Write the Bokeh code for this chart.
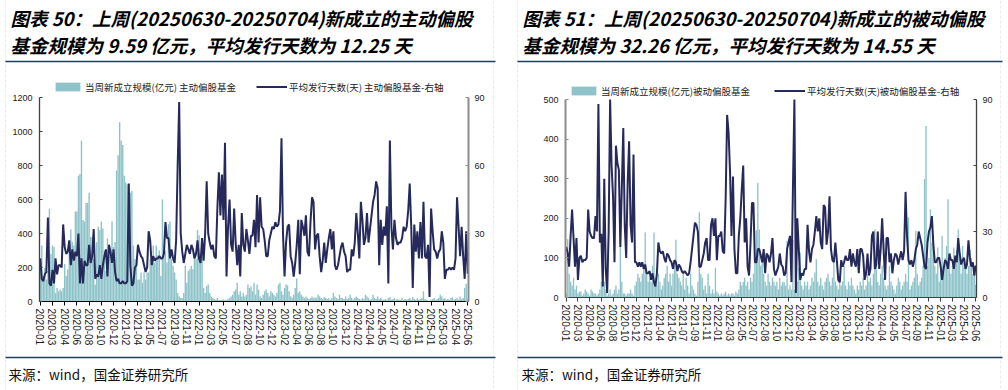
from bokeh.plotting import figure
from bokeh.models import (Range1d, LinearAxis, FixedTicker, SingleIntervalTicker, Label,
                          Legend, LegendItem, BoxAnnotation)
from bokeh.layouts import row
from bokeh.embed import file_html
from bokeh.resources import INLINE

# ---------------- data ----------------
tick_labels = ["2020-01", "2020-03", "2020-04", "2020-06", "2020-08", "2020-10", "2020-12",
               "2021-02", "2021-04", "2021-05", "2021-07", "2021-09", "2021-11",
               "2022-01", "2022-03", "2022-05", "2022-07", "2022-08", "2022-10", "2022-12",
               "2023-02", "2023-04", "2023-06", "2023-08", "2023-10", "2023-12",
               "2024-02", "2024-04", "2024-05", "2024-07", "2024-09", "2024-11",
               "2025-01", "2025-03", "2025-04", "2025-06"]
weeks_per_label = 8

# 主动偏股基金: 当周新成立规模(亿元)
active_size = [
    230, 330, 150, 200, 130, 180, 545, 280, 330, 320,
    50, 80, 60, 70, 60, 80, 220, 150, 190, 350,
    425, 350, 330, 530, 530, 740, 750, 945, 480, 470,
    580, 580, 640, 380, 380, 250, 100, 350, 440, 420,
    470, 430, 300, 180, 370, 330, 300, 470, 320, 350,
    770, 860, 1055, 945, 920, 740, 700, 690, 500, 640,
    650, 330, 250, 210, 130, 130, 170, 110, 170, 130,
    170, 170, 250, 210, 330, 230, 330, 270, 300, 150,
    600, 270, 300, 230, 455, 470, 250, 210, 170, 130,
    50, 30, 20, 20, 50, 210, 110, 180, 190, 210,
    190, 290, 250, 420, 390, 240, 300, 80, 50, 90,
    100, 50, 30, 20, 15, 10, 20, 10, 8, 10,
    12, 10, 8, 15, 20, 30, 40, 60, 70, 110,
    40, 60, 30, 50, 30, 40, 100, 80, 90, 60,
    110, 40, 100, 70, 30, 20, 40, 60, 70, 50,
    30, 60, 50, 40, 30, 50, 100, 110, 60, 40,
    80, 100, 95, 60, 30, 20, 40, 80, 135, 50,
    60, 40, 30, 20, 30, 20, 15, 20, 30, 20,
    25, 20, 40, 30, 20, 15, 25, 20, 15, 20,
    10, 20, 50, 30, 20, 15, 40, 20, 20, 15,
    30, 15, 20, 40, 20, 10, 20, 30, 20, 15,
    10, 20, 15, 40, 30, 20, 10, 15, 40, 20,
    15, 30, 15, 20, 10, 10, 15, 10, 20, 25,
    10, 15, 20, 10, 15, 10, 10, 20, 10, 15,
    10, 15, 20, 10, 25, 15, 10, 20, 10, 15,
    20, 60, 15, 10, 5, 5, 10, 15, 20, 10,
    15, 20, 40, 30, 15, 20, 10, 15, 10, 20,
    25, 10, 15, 20, 10, 30, 15, 20, 80, 105,
    9.59]

# 主动偏股基金: 平均发行天数(天)
active_days = [
    19, 10, 9, 12, 13, 37, 8, 7, 14, 8,
    19, 12, 16, 16, 15, 34, 24, 21, 22, 27,
    16, 23, 18, 22, 20, 30, 8, 19, 8, 18,
    16, 16, 25, 17, 20, 32, 10, 12, 11, 16,
    10, 16, 20, 23, 11, 25, 22, 17, 23, 13,
    9, 10, 8, 8, 9, 8, 8, 9, 52, 16,
    7, 8, 15, 16, 25, 22, 20, 19, 16, 13,
    15, 31, 27, 16, 20, 18, 19, 19, 20, 19,
    19, 21, 35, 28, 28, 19, 23, 19, 17, 27,
    60, 88, 30, 22, 17, 21, 25, 23, 21, 25,
    23, 19, 21, 27, 19, 17, 28, 18, 30, 53,
    30, 26, 23, 25, 20, 19, 41, 57, 38, 56,
    36, 70, 11, 33, 45, 25, 22, 41, 26, 16,
    25, 11, 39, 25, 22, 32, 27, 21, 29, 29,
    36, 24, 47, 26, 46, 33, 32, 27, 20, 20,
    27, 30, 33, 32, 35, 33, 34, 40, 72, 30,
    11, 26, 33, 34, 20, 17, 11, 17, 25, 36,
    12, 36, 33, 29, 38, 22, 20, 35, 46, 44,
    23, 29, 30, 20, 13, 18, 26, 17, 23, 28,
    32, 23, 31, 16, 14, 16, 20, 24, 26, 22,
    20, 13, 14, 14, 23, 20, 26, 39, 30, 19,
    44, 36, 25, 28, 39, 26, 32, 38, 44, 47,
    53, 50, 16, 36, 25, 33, 29, 42, 8, 71,
    33, 23, 36, 28, 25, 26, 26, 28, 33, 31,
    33, 40, 52, 33, 6, 34, 22, 31, 19, 35,
    19, 44, 20, 19, 25, 2, 41, 31, 23, 22,
    19, 22, 23, 31, 26, 10, 14, 14, 15, 14,
    15, 14, 19, 46, 33, 20, 33, 20, 10, 31,
    12.25]

# 被动偏股基金: 当周新成立规模(亿元)
passive_size = [
    10, 147, 60, 40, 30, 50, 20, 30, 10, 15,
    15, 5, 10, 20, 15, 10, 5, 20, 15, 10,
    10, 5, 10, 20, 40, 30, 40, 20, 5, 10,
    20, 5, 10, 20, 30, 10, 20, 130, 40, 10,
    10, 5, 10, 10, 20, 10, 5, 30, 40, 60,
    50, 40, 60, 80, 164, 60, 40, 50, 40, 80,
    164, 50, 30, 60, 40, 20, 30, 50, 60, 80,
    40, 60, 30, 60, 80, 146, 60, 50, 40, 30,
    60, 20, 50, 30, 10, 60, 30, 20, 10, 5,
    40, 215, 60, 50, 20, 30, 10, 60, 30, 10,
    20, 10, 75, 15, 10, 5, 10, 5, 10, 15,
    5, 10, 5, 10, 10, 5, 15, 10, 20, 40,
    30, 40, 50, 30, 40, 20, 50, 40, 60, 100,
    170, 290, 172, 80, 110, 60, 40, 30, 60, 40,
    30, 50, 40, 30, 40, 20, 50, 30, 40, 38,
    30, 143, 20, 30, 20, 145, 20, 30, 40, 75,
    113, 30, 20, 40, 30, 40, 20, 30, 50, 40,
    63, 97, 40, 30, 50, 30, 20, 40, 50, 60,
    40, 30, 50, 97, 40, 30, 20, 50, 30, 40,
    80, 30, 20, 40, 30, 50, 30, 20, 10, 30,
    20, 40, 30, 50, 20, 30, 60, 40, 50, 30,
    60, 172, 100, 40, 30, 60, 80, 50, 30, 20,
    30, 80, 40, 30, 20, 10, 30, 50, 40, 20,
    30, 40, 60, 40, 202, 20, 30, 40, 50, 168,
    60, 30, 40, 50, 80, 299, 433, 80, 100, 223,
    139, 160, 80, 60, 126, 40, 80, 155, 60, 100,
    130, 248, 100, 60, 80, 126, 100, 120, 172, 100,
    60, 130, 100, 80, 60, 80, 120, 100, 60, 80,
    32.26]

# 被动偏股基金: 平均发行天数(天)
passive_days = [
    23, 20, 14, 28, 40, 27, 14, 27, 8, 18,
    19, 16, 17, 17, 18, 40, 30, 28, 27, 27,
    37, 30, 88, 25, 29, 5, 54, 13, 2, 30,
    90, 60, 46, 16, 69, 61, 58, 23, 50, 77,
    33, 18, 52, 71, 33, 25, 65, 16, 16, 14,
    16, 14, 16, 13, 15, 11, 11, 12, 8, 11,
    7, 5, 11, 25, 21, 20, 21, 18, 16, 20,
    19, 17, 16, 13, 17, 16, 12, 15, 14, 12,
    11, 12, 11, 10, 11, 16, 22, 28, 34, 33,
    30, 14, 14, 17, 20, 25, 27, 17, 17, 33,
    36, 28, 36, 17, 28, 28, 30, 21, 20, 45,
    83, 75, 57, 28, 55, 22, 11, 11, 28, 36,
    49, 60, 25, 36, 14, 10, 25, 43, 43, 16,
    16, 22, 22, 19, 16, 22, 11, 20, 19, 16,
    20, 27, 13, 10, 12, 14, 20, 15, 14, 10,
    11, 22, 25, 28, 7, 50, 90, 2, 36, 22,
    8, 11, 10, 13, 13, 33, 21, 16, 22, 24,
    30, 37, 30, 36, 25, 22, 42, 41, 24, 30,
    46, 22, 17, 16, 25, 17, 8, 7, 17, 14,
    16, 19, 17, 17, 22, 14, 20, 16, 14, 22,
    11, 22, 22, 19, 8, 11, 20, 10, 13, 28,
    30, 13, 15, 30, 13, 22, 36, 22, 8, 27,
    27, 16, 20, 11, 17, 20, 19, 15, 18, 21,
    17, 21, 48, 28, 17, 15, 17, 14, 17, 22,
    24, 30, 27, 24, 19, 14, 13, 25, 30, 32,
    37, 24, 16, 16, 18, 18, 14, 8, 13, 17,
    16, 13, 20, 17, 17, 13, 19, 16, 27, 20,
    15, 17, 18, 13, 15, 26, 18, 14, 16, 10,
    14.55]

titles_left = ["图表 50：上周(20250630-20250704)新成立的主动偏股",
               "基金规模为 9.59 亿元，平均发行天数为 12.25 天"]
titles_right = ["图表 51：上周(20250630-20250704)新成立的被动偏股",
                "基金规模为 32.26 亿元，平均发行天数为 14.55 天"]
legend_left = ["当周新成立规模(亿元) 主动偏股基金", "平均发行天数(天) 主动偏股基金-右轴"]
legend_right = ["当周新成立规模(亿元)被动偏股基金", "平均发行天数(天)被动偏股基金-右轴"]
source_text = "来源：wind，国金证券研究所"

# ---------------- style ----------------
BAR = "#8EC3C9"
LINE = "#262A5B"
SEP = "#1F3D5C"
CJK = "Noto Sans CJK SC"
NUM = "Liberation Sans"
PW, PH = 504, 390
DAYS_MAX = 90


def style_axis(ax, color, width, font_size="9px"):
    ax.axis_line_color = color
    ax.axis_line_width = width
    ax.major_tick_line_color = color
    ax.minor_tick_line_color = None
    ax.major_label_text_font = NUM
    ax.major_label_text_font_size = font_size
    ax.major_label_text_color = "#1a1a1a"


def scr(kw):
    return dict(kw, left_units="screen", right_units="screen",
                top_units="screen", bottom_units="screen")


def panel(size, days, size_max, size_step, titles, legends,
          area, title_x, src_x, box, leg_xy, leg_spacing, cols):
    """area = (left, right, top, bottom) pixel edges of the plotting area inside the panel."""
    n = len(size)
    idx = list(range(n))
    al, ar, at, ab = area
    kx = (ar - al) / n                       # px per week slot
    x_lo = -0.5 - al / kx
    x_hi = n - 0.5 + (PW - ar) / kx
    ky = size_max / (ab - at)                # value per px
    kd = DAYS_MAX / (ab - at)

    p = figure(width=PW, height=PH, output_backend="svg", toolbar_location=None,
               x_range=Range1d(x_lo, x_hi),
               y_range=Range1d(-(PH - ab) * ky, size_max + at * ky),
               min_border_left=0, min_border_right=0, min_border_top=0, min_border_bottom=0)
    p.outline_line_color = None
    p.grid.visible = False
    p.background_fill_color = "white"
    p.border_fill_color = "white"
    p.extra_y_ranges = {"days": Range1d(-(PH - ab) * kd, DAYS_MAX + at * kd)}

    bars = p.vbar(x=idx, top=size, width=0.92, fill_color=BAR, line_color=None)
    ln = p.line(idx, days, y_range_name="days", line_color=LINE, line_width=2)

    # left axis
    yl = p.yaxis[0]
    yl.ticker = SingleIntervalTicker(interval=size_step, num_minor_ticks=0)
    yl.fixed_location = -0.5
    yl.bounds = (0, size_max)
    style_axis(yl, *cols[0])
    yl.major_tick_in = 3
    yl.major_tick_out = 0
    yl.major_label_standoff = 7

    # right axis
    yr = LinearAxis(y_range_name="days",
                    ticker=SingleIntervalTicker(interval=30, num_minor_ticks=0))
    yr.fixed_location = n - 0.5
    yr.bounds = (0, DAYS_MAX)
    style_axis(yr, *cols[1])
    yr.major_tick_in = 3
    yr.major_tick_out = 0
    yr.major_label_standoff = 6
    p.add_layout(yr, "right")

    # bottom axis
    xa = p.xaxis[0]
    ticks = [i * weeks_per_label for i in range(len(tick_labels))]
    xa.ticker = FixedTicker(ticks=ticks)
    xa.major_label_overrides = {t: lab for t, lab in zip(ticks, tick_labels)}
    xa.major_label_orientation = "vertical"
    xa.fixed_location = 0
    xa.bounds = (-0.5, n - 0.5)
    style_axis(xa, cols[2], 1, "10px")
    xa.major_tick_in = 0
    xa.major_tick_out = 4
    xa.major_label_standoff = 3

    # legend (inside the panel, above the plotting area)
    legend = Legend(items=[LegendItem(label=legends[0], renderers=[bars]),
                           LegendItem(label=legends[1], renderers=[ln])],
                    orientation="horizontal", location=(leg_xy[0], PH - leg_xy[1]),
                    background_fill_alpha=0, border_line_color=None,
                    padding=0, margin=0, spacing=leg_spacing,
                    glyph_width=31, glyph_height=11, label_standoff=2,
                    label_text_font=CJK, label_text_font_size="9.5px",
                    label_text_color="#222222", label_height=11)
    p.add_layout(legend)

    # titles
    for Y, txt in zip([17, 44], titles):
        p.add_layout(Label(x=title_x, y=PH - Y, x_units="screen", y_units="screen",
                           text=txt, text_font=CJK, text_font_size="18.5px",
                           text_font_style="bold italic", text_color="#000000",
                           text_baseline="middle", text_align="left"))
    # source
    p.add_layout(Label(x=src_x, y=PH - 373, x_units="screen", y_units="screen",
                       text=source_text, text_font=CJK, text_font_size="13.5px",
                       text_color="#111111", text_baseline="middle", text_align="left"))

    # separator rules and dashed panel border
    bx0, bx1 = box
    for Y in [61, 357]:
        p.add_layout(BoxAnnotation(**scr(dict(left=bx0, right=bx1 + 2,
                                                  top=PH - Y + 0.75, bottom=PH - Y - 0.75)),
                                   fill_color=SEP, fill_alpha=1, line_color=None, level="overlay"))
    p.add_layout(BoxAnnotation(**scr(dict(left=bx0, right=bx1, top=PH + 2, bottom=-2)),
                               fill_color=None, fill_alpha=0, line_color="#BDBDBD",
                               line_width=1, line_dash="3 2", level="underlay"))
    return p


p1 = panel(active_size, active_days, 1200, 200, titles_left, legend_left,
           area=(39, 468, 97, 301), title_x=10, src_x=8, box=(5, 493),
           leg_xy=(52, 93.5), leg_spacing=20,
           cols=[("#404040", 1.3), ("#8C8C8C", 2), "#000000"])

p2 = panel(passive_size, passive_days, 500, 100, titles_right, legend_right,
           area=(61, 472, 99, 297), title_x=18, src_x=17, box=(13, 496),
           leg_xy=(64, 97.5), leg_spacing=24,
           cols=[("#8C8C8C", 2), ("#404040", 1.3), "#404040"])

layout = row(p1, p2)
open("out.html", "w").write(file_html(layout, INLINE))
